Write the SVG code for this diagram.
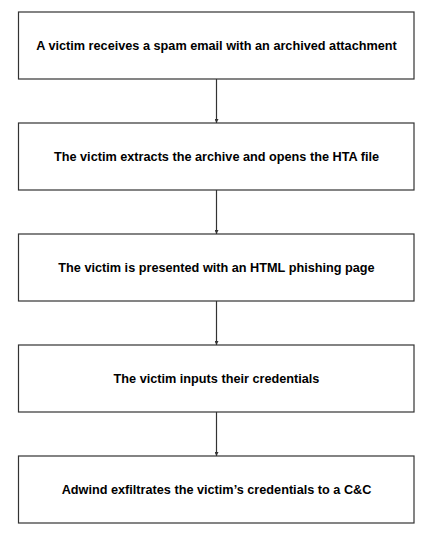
<svg xmlns="http://www.w3.org/2000/svg" width="434" height="542" viewBox="0 0 434 542">
<style>
.box{fill:#fff;stroke:#333;stroke-width:1.2}
.t{font-family:"Liberation Sans",Arial,sans-serif;font-weight:bold;font-size:12.7px;fill:#000;text-anchor:middle;dominant-baseline:central}
.c{stroke:#333;stroke-width:1.2;fill:none;marker-end:url(#ah)}
</style>
<defs>
<marker id="ah" markerWidth="4" markerHeight="4" refX="4" refY="2" orient="auto" markerUnits="userSpaceOnUse">
<path d="M0,0 L4,2 L0,4 Z" fill="#333"/>
</marker>
</defs>
<rect width="434" height="542" fill="#fff"/>
<g id="connectors">
<line class="c" x1="216.5" y1="79" x2="216.5" y2="123"/>
<line class="c" x1="216.5" y1="190" x2="216.5" y2="234"/>
<line class="c" x1="216.5" y1="301" x2="216.5" y2="345"/>
<line class="c" x1="216.5" y1="412" x2="216.5" y2="456"/>
</g>
<g id="n1"><rect class="box" x="18.5" y="12" width="395.5" height="67"/><text class="t" x="216.5" y="45.5">A victim receives a spam email with an archived attachment</text></g>
<g id="n2"><rect class="box" x="18.5" y="123" width="395.5" height="67"/><text class="t" x="216.5" y="156.5">The victim extracts the archive and opens the HTA file</text></g>
<g id="n3"><rect class="box" x="18.5" y="234" width="395.5" height="67"/><text class="t" x="216.5" y="267.5">The victim is presented with an HTML phishing page</text></g>
<g id="n4"><rect class="box" x="18.5" y="345" width="395.5" height="67"/><text class="t" x="216.5" y="378.5">The victim inputs their credentials</text></g>
<g id="n5"><rect class="box" x="18.5" y="456" width="395.5" height="67"/><text class="t" x="216.5" y="489.5">Adwind exfiltrates the victim’s credentials to a C&amp;C</text></g>
</svg>
